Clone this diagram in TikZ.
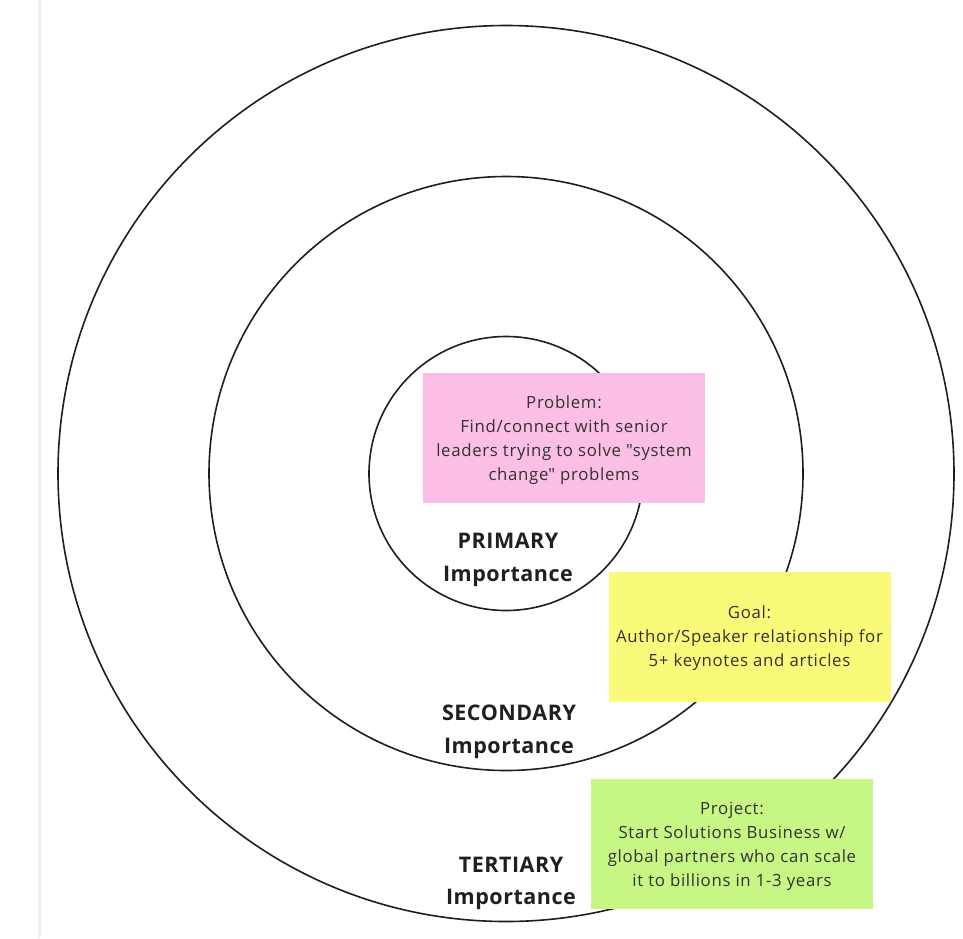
\documentclass[tikz,border=0pt]{standalone}
\usepackage{fontspec}
\setmainfont{Open Sans}
\newfontfamily\quotefont{Open Sans}
\definecolor{pinkc}{RGB}{251,190,228}
\definecolor{yellowc}{RGB}{250,250,122}
\definecolor{greenc}{RGB}{198,247,132}
\definecolor{txtc}{RGB}{50,50,50}
\definecolor{ringc}{RGB}{30,30,30}
\newcommand{\sq}{{\quotefont\addfontfeatures{LetterSpace=4}\symbol{34}}}
\begin{document}
\begin{tikzpicture}[x=1pt,y=-1pt,
  ring/.style={circle, draw=ringc, line width=1.6pt, inner sep=0pt, outer sep=0pt},
  note/.style={rectangle, draw=none, inner sep=0pt, minimum width=282pt, minimum height=130pt},
  notetext/.style={align=center, text=txtc, inner sep=0pt,
    font=\fontsize{16.8}{24}\selectfont\addfontfeatures{LetterSpace=4}},
  lbl/.style={align=center, text=black!88, inner sep=0pt,
    font=\fontsize{21.5}{32.5}\selectfont\bfseries\addfontfeatures{LetterSpace=2.5}}]
\useasboundingbox (0,0) rectangle (963,938);
\fill[black!5] (37.5,0) rectangle (40.5,938);
\coordinate (c) at (506,473.5);
\node[ring, minimum size=896pt] (outer) at (c) {};
\node[ring, minimum size=594pt] (middle) at (c) {};
\node[ring, minimum size=274pt] (inner) at (c) {};
\node[note, fill=pinkc] (problem) at (564,438) {};
\node[notetext] (problemtext) at (564,440) {Problem:\\Find/connect with senior\\leaders trying to solve \sq system\\change\sq\ problems};
\node[note, fill=yellowc] (goal) at (749.5,636.5) {};
\node[notetext] (goaltext) at (749.5,638) {Goal:\\Author/Speaker relationship for\\5+ keynotes and articles};
\node[note, fill=greenc] (project) at (732,844) {};
\node[notetext] (projecttext) at (732,846) {Project:\\Start Solutions Business w/\\global partners who can scale\\it to billions in 1-3 years};
\node[lbl] (primary) at (508,560) {PRIMARY\\Importance};
\node[lbl] (secondary) at (509,732) {SECONDARY\\Importance};
\node[lbl] (tertiary) at (511,883.5) {TERTIARY\\Importance};
\end{tikzpicture}
\end{document}
